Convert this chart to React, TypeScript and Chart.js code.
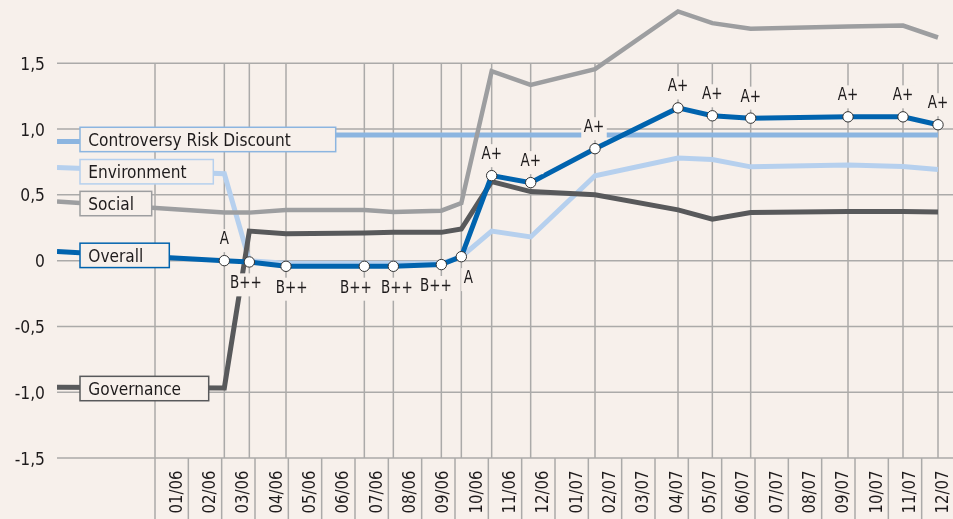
import { useEffect, useRef } from "react";
import { Chart, registerables } from "chart.js";

Chart.register(...registerables);

// ---- data ----
// x positions are months since 1 Jan 2006 (0 = start of 01/06)
const monthLabels = [
  "01/06", "02/06", "03/06", "04/06", "05/06", "06/06", "07/06", "08/06", "09/06", "10/06", "11/06", "12/06",
  "01/07", "02/07", "03/07", "04/07", "05/07", "06/07", "07/07", "08/07", "09/07", "10/07", "11/07", "12/07",
];
const yTickValues = [-1.5, -1, -0.5, 0, 0.5, 1, 1.5];
const yTickLabels = ["-1,5", "-1,0", "-0,5", "0", "0,5", "1,0", "1,5"];

const dates = [-2.94, 2.08, 2.83, 3.93, 6.28, 7.15, 8.59, 9.19, 10.1, 11.27, 13.2, 15.69, 16.72, 17.87, 20.79, 22.44, 23.49];
const ratings = ["", "A", "B++", "B++", "B++", "B++", "B++", "A", "A+", "A+", "A+", "A+", "A+", "A+", "A+", "A+", "A+"];
const overall = [0.07, 0.0, -0.01, -0.043, -0.043, -0.043, -0.03, 0.03, 0.646, 0.593, 0.851, 1.161, 1.101, 1.083, 1.093, 1.093, 1.033];
const environment = [0.707, 0.66, 0.0, -0.02, -0.02, -0.02, -0.02, 0.03, 0.225, 0.18, 0.645, 0.78, 0.768, 0.713, 0.727, 0.715, 0.693];
const social = [0.45, 0.365, 0.365, 0.385, 0.385, 0.37, 0.38, 0.437, 1.44, 1.336, 1.455, 1.894, 1.805, 1.762, 1.78, 1.787, 1.696];
const governance = [-0.963, -0.968, 0.225, 0.205, 0.21, 0.215, 0.215, 0.24, 0.6, 0.525, 0.5, 0.386, 0.315, 0.365, 0.373, 0.373, 0.37];
const controversyDates = [-2.94, 2.08, 2.83, 23.49];
const controversy = [0.905, 0.905, 0.954, 0.954];

const seriesNames = ["Overall", "Governance", "Social", "Environment", "Controversy Risk Discount"];

// ---- styling ----
const BG = "#f7f0eb";
const GRID = "#abaaa9";
const TEXT = "#1e1b1c";
const FAMILY = '"DejaVu Sans Condensed", "DejaVu Sans", sans-serif';
const COLORS = {
  overall: "#0063ae",
  governance: "#58595b",
  social: "#9d9ea0",
  environment: "#b6d0ee",
  controversy: "#8cb5e0",
};

function setFont(ctx: CanvasRenderingContext2D, size: number) {
  ctx.font = `${size}px ${FAMILY}`;
  try {
    (ctx as any).fontStretch = "condensed";
  } catch (e) {
    /* ignore */
  }
}

// draw text with horizontal compression; align: 0 left, 0.5 centre, 1 right
function drawText(ctx: CanvasRenderingContext2D, s: string, x: number, y: number, sx: number, align: number, rot = 0) {
  ctx.save();
  ctx.translate(x, y);
  if (rot) ctx.rotate(rot);
  ctx.scale(sx, 1);
  ctx.textAlign = "left";
  ctx.textBaseline = "alphabetic";
  const w = ctx.measureText(s).width;
  ctx.fillText(s, -w * align, 0);
  ctx.restore();
  return w * sx;
}

// layout tweaks for rating labels: side (1 = above, -1 = below) and x nudge
const ratingSide = [0, 1, -1, -1, -1, -1, -1, -1, 1, 1, 1, 1, 1, 1, 1, 1, 1];
const ratingNudge = [0, 0, -3.5, 5.7, -8.5, 3.5, -5.5, 7, 0, 0, -1, 0, 0, 0, 0, 0, 0];

// layout of the name boxes at the left: [series index, colour, box width, centre value]
const nameBoxes: [number, string, number, number][] = [
  [4, COLORS.controversy, 255.7, 0.921],
  [3, COLORS.environment, 133.3, 0.676],
  [2, COLORS.social, 71.7, 0.434],
  [0, COLORS.overall, 89.3, 0.04],
  [1, COLORS.governance, 128.7, -0.972],
];

const decor = {
  id: "decor",
  beforeDraw(chart: any) {
    const ctx: CanvasRenderingContext2D = chart.ctx;
    ctx.save();
    ctx.fillStyle = BG;
    ctx.fillRect(0, 0, chart.width, chart.height);
    ctx.restore();
  },
  beforeDatasetsDraw(chart: any) {
    const ctx: CanvasRenderingContext2D = chart.ctx;
    const xs = chart.scales.x;
    const ys = chart.scales.y;
    const area = chart.chartArea;
    const top = ys.getPixelForValue(1.5);
    const bottom = ys.getPixelForValue(-1.5);
    ctx.save();
    ctx.strokeStyle = GRID;
    ctx.lineWidth = 1.5;
    // horizontal grid
    yTickValues.forEach((v) => {
      const y = ys.getPixelForValue(v);
      ctx.beginPath();
      ctx.moveTo(area.left, y);
      ctx.lineTo(area.right, y);
      ctx.stroke();
    });
    // vertical grid at rating dates
    dates.slice(1).forEach((d) => {
      const x = xs.getPixelForValue(d);
      ctx.beginPath();
      ctx.moveTo(x, top);
      ctx.lineTo(x, bottom);
      ctx.stroke();
    });
    // start line of the month axis
    const x0 = xs.getPixelForValue(0);
    ctx.beginPath();
    ctx.moveTo(x0, top);
    ctx.lineTo(x0, chart.height);
    ctx.stroke();
    // month separators
    monthLabels.forEach((_, i) => {
      const x = xs.getPixelForValue(i + 1);
      ctx.beginPath();
      ctx.moveTo(x, bottom);
      ctx.lineTo(x, chart.height);
      ctx.stroke();
    });
    // month labels
    ctx.fillStyle = TEXT;
    setFont(ctx, 18);
    monthLabels.forEach((lab, i) => {
      const cx = xs.getPixelForValue(i + 0.5);
      drawText(ctx, lab, cx + 10, bottom + 55.5, 0.92, 0, -Math.PI / 2);
    });
    // y tick labels
    setFont(ctx, 18);
    yTickValues.forEach((v, i) => {
      const y = ys.getPixelForValue(v);
      drawText(ctx, yTickLabels[i], 45, y + 6.5, 0.96, 1);
    });
    ctx.restore();
  },
  afterDatasetsDraw(chart: any) {
    const ctx: CanvasRenderingContext2D = chart.ctx;
    const xs = chart.scales.x;
    const ys = chart.scales.y;
    ctx.save();
    setFont(ctx, 17);
    ratings.forEach((r, i) => {
      if (!r) return;
      const px = xs.getPixelForValue(dates[i]) + ratingNudge[i];
      const py = ys.getPixelForValue(overall[i]);
      const base = ratingSide[i] > 0 ? py - 16.5 : py + 26.4;
      const w = ctx.measureText(r).width * 0.88 + 5;
      ctx.fillStyle = BG;
      ctx.fillRect(px - w / 2, base - 15, w, 23);
      ctx.fillStyle = TEXT;
      drawText(ctx, r, px, base, 0.88, 0.5);
    });
    // name boxes
    setFont(ctx, 18);
    nameBoxes.forEach(([si, col, w, v]) => {
      const cy = ys.getPixelForValue(v);
      const h = 24.4;
      const x = 80;
      ctx.fillStyle = BG;
      ctx.fillRect(x, cy - h / 2, w, h);
      ctx.strokeStyle = col;
      ctx.lineWidth = 1.5;
      ctx.strokeRect(x, cy - h / 2, w, h);
      ctx.fillStyle = TEXT;
      drawText(ctx, seriesNames[si], x + 8.3, cy + 6.5, 0.95, 0);
    });
    ctx.restore();
  },
};

function pts(xsArr: number[], ysArr: number[]) {
  return xsArr.map((x, i) => ({ x, y: ysArr[i] }));
}

export default function App() {
  const ref = useRef<HTMLCanvasElement | null>(null);
  useEffect(() => {
    document.body.style.margin = "0";
    document.body.style.background = BG;
    const common = {
      fill: false,
      tension: 0,
      pointRadius: 0,
      borderJoinStyle: "miter" as const,
      borderCapStyle: "butt" as const,
    };
    const chart = new Chart(ref.current as HTMLCanvasElement, {
      type: "line",
      data: {
        datasets: [
          {
            ...common,
            label: seriesNames[0],
            data: pts(dates, overall),
            borderColor: COLORS.overall,
            borderWidth: 5,
            pointRadius: dates.map((_, i) => (i === 0 ? 0 : 5.2)),
            pointBackgroundColor: "#ffffff",
            pointBorderColor: "#333333",
            pointBorderWidth: 1,
          },
          { ...common, label: seriesNames[1], data: pts(dates, governance), borderColor: COLORS.governance, borderWidth: 5 },
          { ...common, label: seriesNames[2], data: pts(dates, social), borderColor: COLORS.social, borderWidth: 4.5 },
          { ...common, label: seriesNames[3], data: pts(dates, environment), borderColor: COLORS.environment, borderWidth: 5 },
          { ...common, label: seriesNames[4], data: pts(controversyDates, controversy), borderColor: COLORS.controversy, borderWidth: 5 },
        ],
      },
      options: {
        animation: false,
        responsive: true,
        maintainAspectRatio: false,
        events: [],
        layout: { autoPadding: false, padding: { left: 57, right: 0, top: 0, bottom: 61 } },
        plugins: { legend: { display: false }, tooltip: { enabled: false }, title: { display: false } },
        scales: {
          x: { type: "linear", min: -2.94, max: 23.94, display: false },
          y: { type: "linear", min: -1.5, max: 1.981, display: false },
        },
      },
      plugins: [decor],
    } as any);
    return () => chart.destroy();
  }, []);
  return (
    <div style={{ width: 953, height: 519, position: "relative" }}>
      <canvas ref={ref} />
    </div>
  );
}
